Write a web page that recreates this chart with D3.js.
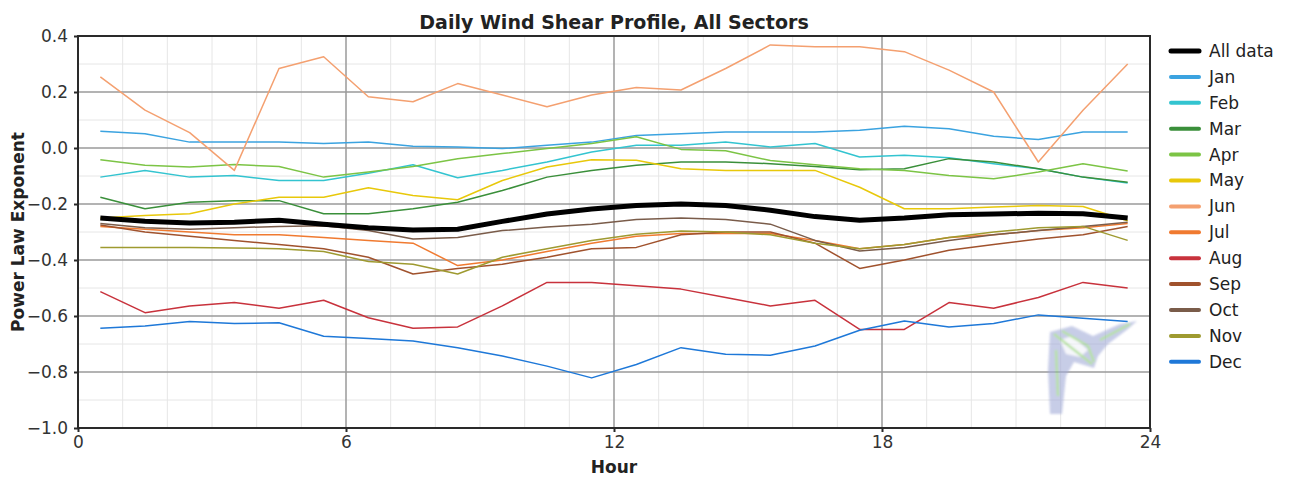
<!DOCTYPE html>
<html>
<head>
<meta charset="utf-8">
<script src="https://cdn.jsdelivr.net/npm/d3@7"></script>
<style>
    body { margin: 0; background: #fff; }
    svg { display: block; font-family: "DejaVu Sans", Verdana, sans-serif; }
    .grid_minor { stroke: #e6e6e6; stroke-width: 1; }
    .grid_major { stroke: #9a9a9a; stroke-width: 1.5; }
    .frame { fill: none; stroke: #2a2a2a; stroke-width: 2; }
    .tick_value { font-size: 17px; fill: #333; }
    .series { fill: none; stroke-linejoin: round; }
</style>
</head>
<body>
<svg id="chart" width="1293" height="479"></svg>
<script>
// hour centres (x) and the monthly profiles
let hours = [0.5, 1.5, 2.5, 3.5, 4.5, 5.5, 6.5, 7.5, 8.5, 9.5, 10.5, 11.5,
    12.5, 13.5, 14.5, 15.5, 16.5, 17.5, 18.5, 19.5, 20.5, 21.5, 22.5, 23.5];

let x_ticks = [0, 6, 12, 18, 24];
let y_ticks = [0.4, 0.2, 0.0, -0.2, -0.4, -0.6, -0.8, -1.0];

let series_names = ["All data", "Jan", "Feb", "Mar", "Apr", "May", "Jun", "Jul", "Aug", "Sep", "Oct", "Nov", "Dec"];
let series_colors = ["#000000", "#3ba3e0", "#33c4d0", "#3a8f3a", "#7cc445", "#e8c80a", "#f4a070",
    "#f07a30", "#c8323c", "#a0522d", "#7a5c4a", "#9e9a30", "#1e78d8"];

let all_data = [-0.25, -0.262, -0.268, -0.265, -0.258, -0.272, -0.285, -0.293, -0.29, -0.262, -0.236, -0.218,
    -0.205, -0.2, -0.205, -0.222, -0.245, -0.258, -0.25, -0.238, -0.236, -0.233, -0.235, -0.25];
let jan = [0.06, 0.051, 0.021, 0.021, 0.021, 0.016, 0.021, 0.006, 0.004, -0.002, 0.01, 0.021,
    0.045, 0.051, 0.057, 0.057, 0.057, 0.063, 0.078, 0.069, 0.042, 0.03, 0.057, 0.057];
let feb = [-0.104, -0.08, -0.104, -0.098, -0.116, -0.116, -0.09, -0.06, -0.106, -0.08, -0.05, -0.014,
    0.01, 0.01, 0.021, 0.004, 0.016, -0.032, -0.026, -0.035, -0.056, -0.074, -0.104, -0.125];
let mar = [-0.176, -0.217, -0.194, -0.188, -0.188, -0.235, -0.235, -0.217, -0.194, -0.152, -0.104, -0.08,
    -0.062, -0.05, -0.05, -0.056, -0.066, -0.078, -0.074, -0.038, -0.05, -0.074, -0.104, -0.122];
let apr = [-0.042, -0.062, -0.068, -0.059, -0.066, -0.104, -0.086, -0.066, -0.038, -0.02, -0.002, 0.016,
    0.04, -0.005, -0.01, -0.045, -0.06, -0.074, -0.08, -0.098, -0.11, -0.086, -0.056, -0.082];
let may = [-0.25, -0.241, -0.235, -0.2, -0.176, -0.176, -0.142, -0.17, -0.185, -0.116, -0.068, -0.042,
    -0.044, -0.074, -0.08, -0.08, -0.08, -0.14, -0.217, -0.217, -0.211, -0.205, -0.209, -0.26];
let jun = [0.254, 0.135, 0.055, -0.08, 0.284, 0.326, 0.183, 0.165, 0.23, 0.189, 0.147, 0.189,
    0.216, 0.207, 0.284, 0.368, 0.362, 0.362, 0.344, 0.278, 0.2, -0.05, 0.135, 0.3];
let jul = [-0.28, -0.29, -0.3, -0.31, -0.31, -0.32, -0.33, -0.34, -0.42, -0.4, -0.37, -0.34,
    -0.315, -0.305, -0.305, -0.305, -0.33, -0.36, -0.345, -0.32, -0.31, -0.295, -0.285, -0.27];
let aug = [-0.513, -0.588, -0.564, -0.552, -0.572, -0.544, -0.606, -0.644, -0.639, -0.564, -0.48, -0.48,
    -0.492, -0.504, -0.534, -0.564, -0.544, -0.648, -0.648, -0.552, -0.572, -0.534, -0.48, -0.5];
let sep = [-0.275, -0.3, -0.315, -0.33, -0.345, -0.36, -0.39, -0.45, -0.43, -0.415, -0.39, -0.36,
    -0.355, -0.31, -0.3, -0.3, -0.34, -0.43, -0.4, -0.365, -0.345, -0.325, -0.31, -0.28];
let oct = [-0.27, -0.285, -0.29, -0.285, -0.28, -0.278, -0.295, -0.325, -0.32, -0.295, -0.282, -0.272,
    -0.255, -0.25, -0.255, -0.272, -0.33, -0.368, -0.355, -0.33, -0.31, -0.295, -0.28, -0.265];
let nov = [-0.355, -0.355, -0.355, -0.357, -0.36, -0.37, -0.405, -0.415, -0.45, -0.39, -0.36, -0.33,
    -0.308, -0.296, -0.3, -0.31, -0.34, -0.36, -0.345, -0.32, -0.3, -0.285, -0.28, -0.33];
let dec = [-0.644, -0.636, -0.62, -0.627, -0.624, -0.672, -0.68, -0.689, -0.713, -0.743, -0.779, -0.821,
    -0.773, -0.713, -0.737, -0.74, -0.707, -0.651, -0.618, -0.639, -0.627, -0.596, -0.608, -0.62];

let series_values = [all_data, jan, feb, mar, apr, may, jun, jul, aug, sep, oct, nov, dec];

let svg = d3.select("#chart");

let xScale = d3.scaleLinear()
    .domain([0, 24])
    .range([78, 1150]);

let yScale = d3.scaleLinear()
    .domain([-1.0, 0.4])
    .range([428, 36]);

let line = d3.line()
    .x(d => xScale(d[0]))
    .y(d => yScale(d[1]));

function drawGrid() {
    let x0 = xScale.range()[0], x1 = xScale.range()[1];
    let y0 = yScale.range()[0], y1 = yScale.range()[1];

    // light grid every hour / every 0.1
    svg.append("g")
        .selectAll("line")
        .data(d3.range(1, 24).filter(d => d % 6))
        .enter()
        .append("line")
        .attr("class", "grid_minor")
        .attr("x1", d => xScale(d)).attr("x2", d => xScale(d))
        .attr("y1", y1).attr("y2", y0);

    svg.append("g")
        .selectAll("line")
        .data([0.3, 0.1, -0.1, -0.3, -0.5, -0.7, -0.9])
        .enter()
        .append("line")
        .attr("class", "grid_minor")
        .attr("x1", x0).attr("x2", x1)
        .attr("y1", d => yScale(d)).attr("y2", d => yScale(d));

    svg.append("g")
        .selectAll("line")
        .data(x_ticks.slice(1, -1))
        .enter()
        .append("line")
        .attr("class", "grid_major")
        .attr("x1", d => xScale(d)).attr("x2", d => xScale(d))
        .attr("y1", y1).attr("y2", y0);

    svg.append("g")
        .selectAll("line")
        .data(y_ticks.slice(1, -1))
        .enter()
        .append("line")
        .attr("class", "grid_major")
        .attr("x1", x0).attr("x2", x1)
        .attr("y1", d => yScale(d)).attr("y2", d => yScale(d));
}

function drawAxes() {
    let yAxis = d3.axisLeft(yScale)
        .tickValues(y_ticks)
        .tickFormat(d3.format(".1f"))
        .tickSize(4)
        .tickPadding(6);

    let xAxis = d3.axisBottom(xScale)
        .tickValues(x_ticks)
        .tickFormat(d3.format("d"))
        .tickSize(4)
        .tickPadding(4);

    let gy = svg.append("g")
        .attr("transform", "translate(" + xScale.range()[0] + ",0)")
        .call(yAxis);
    let gx = svg.append("g")
        .attr("transform", "translate(0," + yScale.range()[0] + ")")
        .call(xAxis);

    for (let g of [gx, gy]) {
        g.select(".domain").remove();
        g.selectAll(".tick line").attr("stroke", "#2a2a2a").attr("stroke-width", 2);
        g.selectAll(".tick text").attr("class", "tick_value");
        g.attr("font-family", null).attr("font-size", null);
    }

    svg.append("rect")
        .attr("class", "frame")
        .attr("x", xScale.range()[0])
        .attr("y", yScale.range()[1])
        .attr("width", xScale.range()[1] - xScale.range()[0])
        .attr("height", yScale.range()[0] - yScale.range()[1]);

    svg.append("text")
        .attr("x", d3.mean(xScale.range()))
        .attr("y", 29)
        .attr("text-anchor", "middle")
        .style("font-size", "19px")
        .style("font-weight", "bold")
        .style("fill", "#222")
        .text("Daily Wind Shear Profile, All Sectors");

    svg.append("text")
        .attr("x", d3.mean(xScale.range()))
        .attr("y", 473)
        .attr("text-anchor", "middle")
        .style("font-size", "17px")
        .style("font-weight", "bold")
        .style("fill", "#222")
        .text("Hour");

    svg.append("text")
        .attr("transform", "translate(24," + d3.mean(yScale.range()) + ") rotate(-90)")
        .attr("text-anchor", "middle")
        .style("font-size", "17px")
        .style("font-weight", "bold")
        .style("fill", "#222")
        .text("Power Law Exponent");
}

function drawLogo() {
    // faint software watermark in the lower right corner
    svg.append("defs")
        .append("filter")
        .attr("id", "soft")
        .append("feGaussianBlur")
        .attr("stdDeviation", 1.3);

    let logo = svg.append("g")
        .attr("opacity", 0.6)
        .attr("filter", "url(#soft)");
    logo.append("path")
        .attr("d", "M1050,414 L1048,370 L1050,332 L1072,326 L1093,336 L1120,324 L1137,321 L1128,329 "
            + "L1108,344 L1098,356 L1094,368 L1074,362 L1066,376 L1062,414 Z")
        .attr("fill", "#a3acd8");
    logo.append("path")
        .attr("d", "M1060,340 L1072,336 L1088,350 L1080,357 L1066,354 Z")
        .attr("fill", "#ffffff")
        .attr("opacity", 0.85);
    logo.append("path")
        .attr("d", "M1054,334 L1092,364 M1062,331 L1088,346 L1094,362 M1100,340 L1130,324 M1056,350 L1058,396")
        .attr("stroke", "#86d05a")
        .attr("stroke-width", 2.4)
        .attr("fill", "none");
}

function drawSeries() {
    // months first, the thick "All data" line on top
    let order = d3.range(1, series_names.length).concat([0]);
    for (let i of order) {
        let points = hours.map((h, k) => [h, series_values[i][k]]);
        svg.append("path")
            .attr("class", "series")
            .attr("d", line(points))
            .style("stroke", series_colors[i])
            .style("stroke-width", i === 0 ? 5 : 1.5);
    }
}

function drawLegend() {
    let legend = svg.append("g")
        .selectAll("g")
        .data(series_names)
        .enter()
        .append("g")
        .attr("transform", (d, i) => "translate(1171," + (51 + i * 25.9) + ")");

    legend.append("line")
        .attr("x1", 0).attr("x2", 28)
        .attr("stroke", (d, i) => series_colors[i])
        .attr("stroke-width", (d, i) => i === 0 ? 5 : 4)
        .attr("stroke-linecap", "round");

    legend.append("text")
        .attr("x", 38)
        .attr("dy", "0.35em")
        .style("font-size", "17px")
        .style("fill", "#222")
        .text(d => d);
}

drawGrid();
drawLogo();
drawSeries();
drawAxes();
drawLegend();
</script>
</body>
</html>
